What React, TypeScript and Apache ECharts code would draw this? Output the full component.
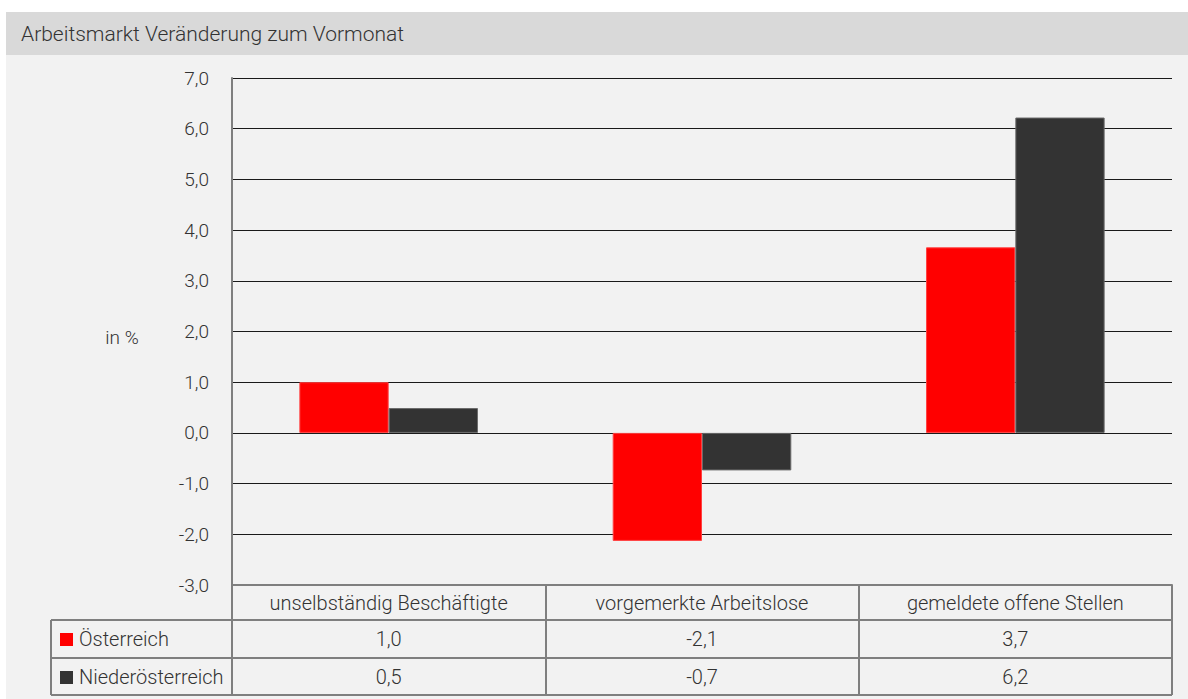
import React, { useEffect, useRef } from "react";
import * as echarts from "echarts";

const title = "Arbeitsmarkt Veränderung zum Vormonat";
const unitLabel = "in %";
const categories = ["unselbständig Beschäftigte", "vorgemerkte Arbeitslose", "gemeldete offene Stellen"];
const seriesNames = ["Österreich", "Niederösterreich"];
const oesterreich = [1.0, -2.13, 3.66];
const niederoesterreich = [0.49, -0.74, 6.22];
const seriesColors = ["#ff0000", "#333333"];
const seriesBorders = ["#ff4040", "#6a6a6a"];
const yMin = -3;
const yMax = 7;
const yInterval = 1;

const fmt = (v: number) => v.toFixed(1).replace(".", ",");

const FONT = "Roboto";
const TXT = "#333333";
const GRID_LINE = "#7f7f7f";

export default function App() {
  const ref = useRef<HTMLDivElement>(null);
  useEffect(() => {
    if (!ref.current) return;
    const chart = echarts.init(ref.current, undefined, { renderer: "svg" });
    const seriesData = [oesterreich, niederoesterreich];
    const tableLeft = 51;
    const tableRight = 1172;
    const rowLines = [620, 658, 695];
    const rowCenters = [639, 677];

    const graphic: any[] = [
      { type: "rect", silent: true, z: -100, shape: { x: 6, y: 12, width: 1182, height: 687 }, style: { fill: "#f2f2f2" } },
      { type: "rect", silent: true, z: -99, shape: { x: 6, y: 12, width: 1182, height: 43 }, style: { fill: "#d9d9d9" } },
      { type: "text", x: 21, y: 34, style: { text: title, fill: TXT, font: `300 21px ${FONT}`, verticalAlign: "middle", align: "left" } },
      { type: "text", x: 122, y: 337, style: { text: unitLabel, fill: TXT, font: `300 19px ${FONT}`, verticalAlign: "middle", align: "center" } },
      { type: "line", shape: { x1: tableLeft, y1: rowLines[0], x2: tableLeft, y2: rowLines[2] }, style: { stroke: GRID_LINE, lineWidth: 2 } },
    ];
    rowLines.forEach((y) => {
      graphic.push({ type: "line", shape: { x1: tableLeft, y1: y, x2: tableRight, y2: y }, style: { stroke: GRID_LINE, lineWidth: 2 } });
    });
    seriesNames.forEach((name, i) => {
      graphic.push({ type: "rect", shape: { x: 60, y: rowCenters[i] - 6, width: 13, height: 13 }, style: { fill: seriesColors[i] } });
      graphic.push({ type: "text", x: 79, y: rowCenters[i], style: { text: name, fill: TXT, font: `300 20px ${FONT}`, verticalAlign: "middle", align: "left" } });
    });

    const hiddenAxisBase = {
      type: "category",
      position: "bottom",
      axisLine: { show: false },
      axisTick: { show: false },
      splitLine: { show: false },
    };
    const labelStyle = { color: TXT, fontSize: 20, fontWeight: 300, fontFamily: FONT, verticalAlign: "middle", interval: 0 };

    chart.setOption({
      animation: false,
      backgroundColor: "transparent",
      textStyle: { fontFamily: FONT },
      grid: { left: 232, right: 16, top: 78, bottom: 114, containLabel: false },
      xAxis: [
        {
          type: "category",
          position: "bottom",
          data: categories,
          axisLine: { show: true, onZero: false, lineStyle: { color: GRID_LINE, width: 2 } },
          axisTick: { show: true, length: 110, lineStyle: { color: GRID_LINE, width: 2 } },
          axisLabel: { ...labelStyle, margin: 18 },
          splitLine: { show: false },
        },
        {
          ...hiddenAxisBase,
          data: oesterreich.map(fmt),
          axisLabel: { ...labelStyle, margin: 54 },
        },
        {
          ...hiddenAxisBase,
          data: niederoesterreich.map(fmt),
          axisLabel: { ...labelStyle, margin: 92 },
        },
      ],
      yAxis: {
        type: "value",
        min: yMin,
        max: yMax,
        interval: yInterval,
        axisLine: { show: true, lineStyle: { color: GRID_LINE, width: 2 } },
        axisTick: { show: false },
        axisLabel: { color: TXT, fontSize: 19, fontWeight: 300, fontFamily: FONT, margin: 23, formatter: (v: number) => fmt(v) },
        splitLine: { show: true, lineStyle: { color: "#1a1a1a", width: 1 } },
      },
      series: seriesNames.map((name, i) => ({
        name,
        type: "bar",
        xAxisIndex: 0,
        data: seriesData[i],
        barGap: "0%",
        barCategoryGap: "43%",
        itemStyle: { color: seriesColors[i], borderColor: seriesBorders[i], borderWidth: 1 },
        z: 3,
      })),
      graphic,
    });
    return () => chart.dispose();
  }, []);
  return <div ref={ref} style={{ position: "fixed", left: 0, top: 0, width: 1188, height: 699, background: "#ffffff" }} />;
}
